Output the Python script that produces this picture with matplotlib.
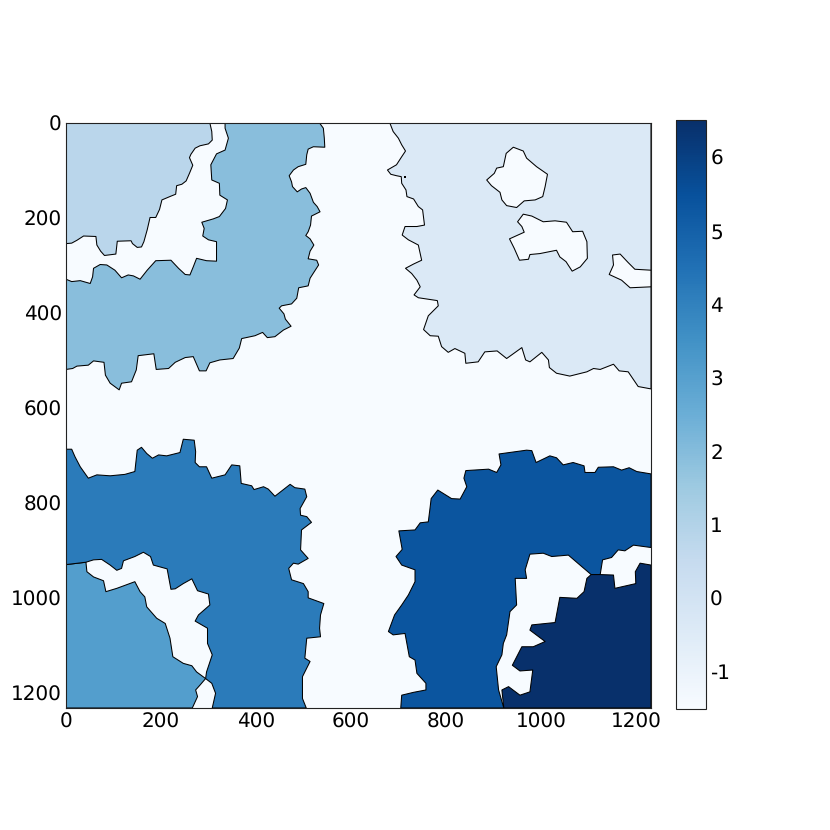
import matplotlib
matplotlib.use("Agg")
import matplotlib.pyplot as plt
from matplotlib.cm import ScalarMappable
from matplotlib.colors import Normalize

# region outlines, (x, y) in image pixels, one per label
region_0 = [(682, 0), (689, 18), (700, 32), (707, 46), (715, 59), (707, 71), (696, 88), (677, 99), (684, 108),
            (696, 111), (706, 113), (707, 127), (716, 141), (718, 155), (732, 160), (742, 176), (751, 183),
            (755, 215), (739, 218), (714, 218), (708, 236), (721, 246), (742, 257), (749, 289), (732, 297),
            (715, 306), (728, 317), (739, 331), (746, 345), (733, 362), (742, 368), (782, 374), (784, 385),
            (763, 406), (753, 435), (767, 448), (784, 449), (791, 471), (805, 483), (819, 475), (840, 485),
            (842, 506), (868, 503), (882, 482), (908, 480), (928, 496), (960, 473), (968, 499), (977, 503),
            (1002, 483), (1016, 499), (1018, 515), (1033, 527), (1061, 533), (1097, 524), (1111, 517),
            (1125, 519), (1153, 508), (1165, 522), (1184, 524), (1205, 555), (1232, 560), (1232, 0)]
region_1 = [(303, 0), (307, 18), (308, 36), (300, 44), (282, 48), (272, 53), (263, 66), (260, 73), (267, 89),
            (260, 106), (253, 122), (244, 129), (233, 132), (231, 150), (221, 154), (202, 162), (197, 182),
            (189, 199), (177, 199), (171, 225), (164, 250), (159, 261), (150, 262), (140, 254), (137, 248),
            (108, 249), (105, 276), (81, 279), (73, 270), (65, 257), (63, 239), (37, 238), (23, 247), (12, 253),
            (0, 254), (0, 0)]
region_2 = [(534, 0), (542, 11), (544, 32), (545, 51), (521, 50), (510, 55), (507, 67), (505, 87), (489, 92),
            (479, 99), (470, 111), (475, 124), (477, 134), (487, 145), (496, 139), (505, 136), (514, 148),
            (521, 167), (529, 176), (535, 187), (517, 196), (515, 215), (510, 229), (505, 237), (514, 244),
            (522, 257), (514, 270), (510, 286), (528, 289), (532, 299), (521, 316), (514, 327), (510, 343),
            (490, 347), (486, 369), (475, 381), (454, 385), (449, 390), (459, 402), (462, 413), (474, 428),
            (458, 436), (440, 450), (424, 452), (414, 441), (398, 448), (370, 454), (365, 474), (352, 496),
            (324, 499), (303, 505), (295, 522), (281, 522), (268, 492), (251, 494), (230, 504), (216, 517),
            (190, 519), (185, 486), (152, 490), (148, 520), (138, 545), (117, 548), (112, 562), (93, 548),
            (83, 531), (80, 504), (58, 501), (47, 510), (23, 512), (14, 517), (0, 519), (0, 329), (12, 334),
            (30, 332), (51, 338), (56, 324), (58, 306), (72, 298), (86, 299), (103, 310), (117, 326), (131, 320),
            (142, 322), (156, 329), (171, 310), (189, 290), (221, 289), (237, 306), (251, 319), (261, 320),
            (268, 303), (275, 285), (296, 290), (317, 291), (317, 250), (300, 246), (288, 238), (291, 222),
            (286, 209), (310, 202), (323, 197), (336, 180), (340, 162), (324, 152), (323, 127), (307, 120),
            (305, 88), (317, 65), (335, 57), (342, 32), (335, 11), (335, 0)]
region_3 = [(0, 930), (42, 925), (44, 945), (58, 956), (79, 964), (84, 987), (107, 980), (145, 966), (156, 987),
            (166, 998), (170, 1019), (191, 1043), (209, 1054), (219, 1085), (225, 1124), (247, 1138), (265, 1143),
            (275, 1156), (294, 1170), (282, 1184), (273, 1194), (277, 1208), (266, 1232), (0, 1232)]
region_4 = [(0, 687), (12, 687), (19, 703), (30, 724), (47, 748), (65, 741), (93, 743), (124, 740), (145, 734),
            (150, 689), (159, 683), (170, 696), (182, 706), (195, 699), (212, 701), (240, 694), (247, 666),
            (270, 668), (273, 692), (272, 715), (281, 724), (296, 724), (307, 748), (335, 741), (349, 720),
            (366, 722), (369, 759), (391, 764), (396, 772), (416, 766), (426, 771), (440, 786), (472, 761),
            (482, 768), (503, 771), (507, 787), (493, 812), (494, 826), (507, 829), (517, 841), (496, 857),
            (494, 899), (510, 917), (489, 929), (479, 927), (469, 938), (475, 962), (500, 970), (510, 987),
            (510, 1000), (543, 1012), (536, 1036), (534, 1064), (536, 1082), (507, 1085), (503, 1127), (514, 1134),
            (498, 1166), (498, 1212), (506, 1232), (308, 1232), (315, 1201), (307, 1180), (294, 1170), (296, 1156),
            (308, 1120), (298, 1096), (298, 1064), (272, 1049), (279, 1036), (303, 1015), (300, 992), (277, 985),
            (265, 960), (247, 970), (230, 981), (221, 982), (213, 939), (184, 931), (178, 913), (163, 904),
            (145, 913), (121, 922), (117, 938), (107, 942), (93, 931), (75, 919), (58, 920), (42, 925), (0, 930)]
region_5 = [(705, 1232), (707, 1205), (732, 1199), (758, 1194), (758, 1180), (739, 1159), (735, 1131), (723, 1124),
            (714, 1075), (689, 1078), (679, 1071), (692, 1036), (707, 1015), (721, 994), (735, 966), (735, 941),
            (707, 931), (695, 913), (708, 898), (701, 859), (735, 857), (746, 842), (763, 840), (767, 808),
            (769, 791), (783, 773), (812, 791), (830, 792), (844, 766), (838, 748), (842, 732), (890, 729),
            (907, 736), (916, 720), (912, 697), (970, 689), (981, 690), (990, 715), (1019, 701), (1033, 705),
            (1047, 720), (1068, 715), (1091, 722), (1093, 736), (1114, 736), (1121, 725), (1153, 724), (1170, 731),
            (1186, 726), (1202, 734), (1232, 739), (1232, 894), (1195, 889), (1177, 901), (1163, 899), (1149, 915),
            (1130, 920), (1125, 951), (1106, 951), (1086, 934), (1058, 910), (1023, 913), (1005, 906), (977, 908),
            (967, 941), (970, 959), (946, 959), (949, 1015), (935, 1029), (928, 1078), (921, 1096), (918, 1120),
            (906, 1145), (911, 1194), (922, 1232)]
region_6 = [(922, 1232), (918, 1194), (932, 1187), (956, 1205), (977, 1198), (983, 1152), (956, 1154), (940, 1142),
            (960, 1103), (984, 1103), (1009, 1092), (977, 1068), (981, 1057), (1030, 1052), (1040, 999), (1076, 1001),
            (1091, 987), (1097, 959), (1106, 951), (1125, 951), (1153, 952), (1156, 980), (1200, 970), (1199, 945),
            (1209, 927), (1232, 931), (1232, 1232)]

# unlabelled (-1) patches cut out of region 0
hole_a = [(942, 51), (963, 59), (970, 74), (991, 92), (1014, 108), (1009, 134), (1004, 155), (988, 162), (965, 164),
          (949, 178), (928, 174), (918, 162), (914, 146), (896, 132), (886, 120), (902, 106), (907, 95), (921, 92),
          (927, 64)]
hole_b = [(963, 192), (981, 196), (1005, 208), (1030, 206), (1054, 209), (1067, 229), (1088, 228), (1097, 250),
          (1098, 285), (1083, 303), (1066, 312), (1053, 292), (1040, 282), (1033, 268), (998, 275), (977, 277),
          (974, 287), (955, 289), (944, 264), (934, 244), (965, 230), (960, 218), (951, 208)]
hole_c = [(1232, 310), (1198, 308), (1184, 294), (1167, 276), (1151, 278), (1153, 299), (1144, 319), (1170, 331),
          (1188, 347), (1232, 345)]
speck = [(712, 112), (716, 112), (716, 115), (712, 115)]

regions = [region_0, region_1, region_2, region_3, region_4, region_5, region_6]
holes = [hole_a, hole_b, hole_c]
ticks = [0, 200, 400, 600, 800, 1000, 1200]
levels = [-1, 0, 1, 2, 3, 4, 5, 6]
level_labels = ["-1", "0", "1", "2", "3", "4", "5", "6"]

plt.rcParams["text.hinting"] = "no_hinting"
plt.rcParams["text.hinting_factor"] = 1

cmap = plt.get_cmap("Blues")
norm = Normalize(-1, 6)

fig = plt.figure(figsize=(8.3, 8.3), dpi=100)
ax = fig.add_axes([66 / 830, 1 - 708 / 830, 585 / 830, 585 / 830])
ax.set_facecolor(cmap(norm(-1)))

for label, outline in enumerate(regions):
    xs, ys = zip(*outline)
    ax.fill(xs, ys, facecolor=cmap(norm(label)), edgecolor="black", linewidth=0.75, joinstyle="round")
for outline in holes:
    xs, ys = zip(*outline)
    ax.fill(xs, ys, facecolor=cmap(norm(-1)), edgecolor="black", linewidth=0.75, joinstyle="round")
xs, ys = zip(*speck)
ax.fill(xs, ys, facecolor="black", edgecolor="none")

ax.set_xlim(0, 1232)
ax.set_ylim(1232, 0)
ax.set_xticks(ticks)
ax.set_yticks(ticks)
ax.tick_params(length=0, labelsize=14.4, pad=3)
for spine in ax.spines.values():
    spine.set_edgecolor("#222222")

cax = fig.add_axes([676 / 830, 1 - 708.5 / 830, 30 / 830, 588 / 830])
sm = ScalarMappable(norm=Normalize(-1.5, 6.5), cmap=cmap)
cbar = fig.colorbar(sm, cax=cax, ticks=levels)
cbar.ax.set_yticklabels(level_labels)
cbar.ax.tick_params(length=0, labelsize=14.4, pad=3)
cbar.outline.set_edgecolor("#222222")

fig.savefig("out.png", dpi=100)
